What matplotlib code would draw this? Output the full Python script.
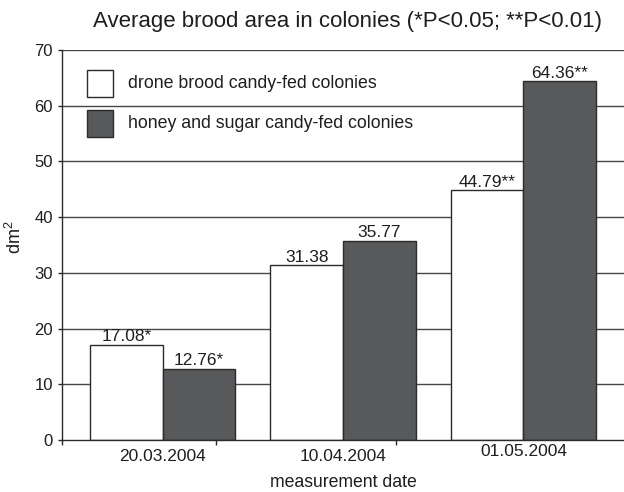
import matplotlib
matplotlib.use("Agg")
import matplotlib.pyplot as plt
import matplotlib.transforms as mtransforms
from matplotlib.patches import Rectangle
import numpy as np

plt.rcParams['font.family'] = ['Liberation Sans', 'DejaVu Sans']
plt.rcParams['mathtext.default'] = 'regular'

dates = ["20.03.2004", "10.04.2004", "01.05.2004"]
drone = [17.08, 31.38, 44.79]
honey = [12.76, 35.77, 64.36]
drone_labels = ["17.08*", "31.38", "44.79**"]
honey_labels = ["12.76*", "35.77", "64.36**"]
series_names = ["drone brood candy-fed colonies", "honey and sugar candy-fed colonies"]
yticks = [0, 10, 20, 30, 40, 50, 60, 70]

dark = "#58595b"
edge = "#2b2b2b"
txt = "#1e1e1e"

W, H = 624, 492
fig = plt.figure(figsize=(W/100, H/100), dpi=100)
AX_L, AX_R, AX_T, AX_B = 62, 624, 50, 440
ax = fig.add_axes([AX_L/W, 1-AX_B/H, (AX_R-AX_L)/W, (AX_B-AX_T)/H])

def axx(px):
    return (px - AX_L) / (AX_R - AX_L)

def axy(py):
    return (AX_B - py) / (AX_B - AX_T)

x = np.arange(len(dates))
w = 0.402
for y in yticks[1:]:
    ax.axhline(y, color="#474747", lw=1.0, zorder=0)
ax.bar(x - w/2, drone, w, color="white", edgecolor=edge, lw=1.0, zorder=2)
ax.bar(x + w/2, honey, w, color=dark, edgecolor=edge, lw=1.0, zorder=2)

for xi, v, t in zip(x - w/2, drone, drone_labels):
    ax.annotate(t, (xi, v), xytext=(0, 0.3), textcoords="offset points",
                ha="center", va="bottom", fontsize=12.5, color=txt)
for xi, v, t in zip(x + w/2, honey, honey_labels):
    ax.annotate(t, (xi, v), xytext=(0, 0.3), textcoords="offset points",
                ha="center", va="bottom", fontsize=12.5, color=txt)

left = -0.5576
ax.set_xlim(left, 2 - left)
ax.set_ylim(0, 70)
ax.set_yticks(yticks)
ax.set_xticks(x)
ax.set_xticklabels(dates)
ax.set_xticks([left, 0.297, 1.294], minor=True)
ax.tick_params(axis="x", which="major", length=0, pad=6.5, labelsize=12.5, colors=txt)
ax.tick_params(axis="x", which="minor", length=3.5, width=1, color=edge)
ax.tick_params(axis="y", length=3, width=1, pad=3.5, labelsize=12, colors=txt)
ax.tick_params(axis="y", color=edge)
lab = ax.get_xticklabels()[2]
lab.set_transform(lab.get_transform() + mtransforms.ScaledTranslation(0, 5/100, fig.dpi_scale_trans))

for s in ["top", "right"]:
    ax.spines[s].set_visible(False)
for s in ["left", "bottom"]:
    ax.spines[s].set_color(edge)
    ax.spines[s].set_linewidth(1.0)

ax.set_ylabel("dm$^2$", fontsize=13, color=txt)
ax.yaxis.set_label_coords(axx(25), axy(237))
ax.set_xlabel("measurement date", fontsize=12.7, color=txt)
ax.xaxis.set_label_coords(axx(343.5), axy(474))

fig.text(347.5/W, 1-26.7/H, "Average brood area in colonies (*P<0.05; **P<0.01)",
         ha="center", va="baseline", fontsize=16, color=txt)

# legend (no frame)
sq_w = axx(113.3) - axx(87.3)
sq_h = axy(70) - axy(97.3)
for top, base, face, name in [(70, 88.3, "white", series_names[0]),
                              (110, 128.3, dark, series_names[1])]:
    ax.add_patch(Rectangle((axx(87.3), axy(top) - sq_h), sq_w, sq_h,
                           transform=ax.transAxes, facecolor=face,
                           edgecolor=edge, lw=1.0, zorder=3, clip_on=False))
    ax.text(axx(128.3), axy(base), name, transform=ax.transAxes,
            ha="left", va="baseline", fontsize=12.8, color=txt, zorder=3)

fig.savefig("out.png", dpi=100)
